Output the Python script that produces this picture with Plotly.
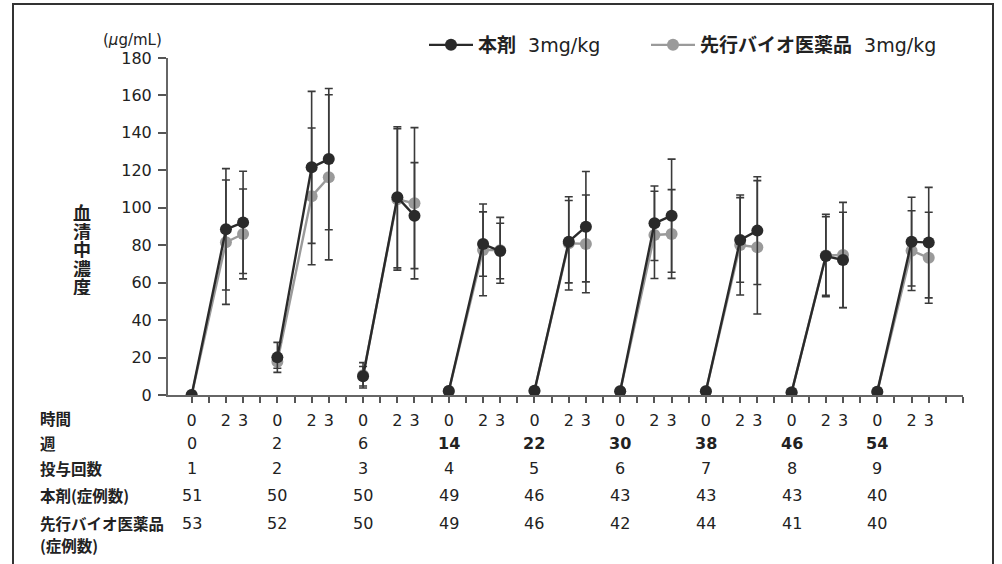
import plotly.graph_objects as go

# ---- data ----
time_offsets = [0, 2, 3]                      # 時間 within each dosing cycle
weeks = [0, 2, 6, 14, 22, 30, 38, 46, 54]      # 週
doses = [1, 2, 3, 4, 5, 6, 7, 8, 9]            # 投与回数
n_test = [51, 50, 50, 49, 46, 43, 43, 43, 40]  # 本剤(症例数)
n_ref = [53, 52, 50, 49, 46, 42, 44, 41, 40]   # 先行バイオ医薬品(症例数)

test_mean = [[0.0, 88.5, 92.2], [20.1, 121.6, 126.0], [10.0, 105.6, 95.8],
             [2.1, 80.6, 76.9], [2.3, 81.9, 89.9], [2.0, 91.7, 95.8],
             [2.0, 82.8, 87.8], [1.4, 74.2, 72.1], [1.8, 81.9, 81.4]]
test_sd = [[0.0, 32.4, 27.3], [8.0, 40.6, 37.7], [5.2, 37.7, 28.3],
           [1.0, 17.2, 14.8], [1.0, 22.0, 29.5], [1.0, 19.9, 30.2],
           [1.0, 22.6, 28.8], [1.0, 21.0, 25.5], [1.0, 23.7, 29.5]]
ref_mean = [[0.0, 81.6, 86.0], [17.8, 106.1, 116.3], [10.5, 104.5, 102.4],
            [2.0, 77.5, 77.3], [2.2, 81.0, 80.7], [2.0, 85.5, 86.0],
            [2.0, 80.1, 78.9], [1.5, 74.5, 74.8], [1.8, 77.1, 73.3]]
ref_sd = [[0.0, 33.2, 24.0], [3.5, 36.5, 44.1], [6.8, 37.8, 40.4],
          [1.0, 24.5, 17.6], [1.0, 24.9, 26.1], [1.0, 23.3, 23.7],
          [1.0, 26.7, 35.6], [1.0, 22.0, 28.1], [1.0, 21.3, 24.3]]

cycle_len = 5
row_labels = ["時間", "週", "投与回数", "本剤(症例数)", "先行バイオ医薬品", "(症例数)"]
y_title = "血清中濃度"

JP = "Noto Sans CJK JP"
NUM = "DejaVu Sans, Noto Sans CJK JP"
TXT = "#222222"
NB = "\u00a0"


def build(means, sds):
    xs, ys, es = [], [], []
    for k, (m, s) in enumerate(zip(means, sds)):
        for t, mv, sv in zip(time_offsets, m, s):
            xs.append(k * cycle_len + t)
            ys.append(mv)
            es.append(sv)
        xs.append(None); ys.append(None); es.append(None)
    return xs, ys, es


fig = go.Figure()
for name, means, sds, col, lg in [
    ("<b>先行バイオ医薬品</b>" + NB * 2 + "3mg/kg", ref_mean, ref_sd, "#9a9a9a", "legend2"),
    ("<b>本剤</b>" + NB * 2 + "3mg/kg", test_mean, test_sd, "#2a2a2a", "legend"),
]:
    xs, ys, es = build(means, sds)
    fig.add_trace(go.Scatter(
        x=xs, y=ys, name=name, mode="lines+markers", legend=lg, showlegend=True,
        line=dict(color=col, width=2.4),
        marker=dict(color=col, size=12),
        error_y=dict(type="data", array=es, visible=True,
                     color="#3a3a3a", thickness=1.6, width=4),
        connectgaps=False,
    ))

n_cycles = len(weeks)
max_u = n_cycles * cycle_len
tickvals = list(range(0, max_u + 1))
ticktext = [str(u % cycle_len) if (u % cycle_len) in time_offsets and u < max_u else "" for u in tickvals]

fig.update_xaxes(
    range=[-1.38, max_u], tickmode="array", tickvals=tickvals, ticktext=ticktext,
    ticks="outside", ticklen=6, tickcolor="#555555", tickwidth=1.5,
    showline=True, linecolor="#666666", linewidth=2, showgrid=False, zeroline=False,
    tickfont=dict(family=NUM, size=16, color=TXT), ticklabelstandoff=4,
)
fig.update_yaxes(
    range=[0, 180], tickmode="linear", tick0=0, dtick=20,
    ticks="outside", ticklen=8, tickcolor="#555555", tickwidth=1.5,
    showline=True, linecolor="#666666", linewidth=2, showgrid=False, zeroline=False,
    tickfont=dict(family=NUM, size=16, color=TXT), ticklabelstandoff=3,
)

PL, PR, PT, PB = 168, 39, 58, 169
W, H = 1002, 564
pw, ph = W - PL - PR, H - PT - PB


def px_x(p):
    return (p - PL) / pw


def px_y(p):
    return (H - PB - p) / ph


ann = []
# y-axis title (vertical stacked characters)
for i, ch in enumerate(y_title):
    ann.append(dict(text=ch, x=px_x(82), y=px_y(212 + 18.5 * i),
                    xref="paper", yref="paper", showarrow=False, height=18,
                    font=dict(family=JP, size=18, color=TXT, weight="bold"),
                    xanchor="center", yanchor="middle"))
# unit
ann.append(dict(text="(<i>μ</i>g/mL)", x=px_x(101), y=px_y(40), xref="paper", yref="paper",
                showarrow=False, xanchor="left", yanchor="middle",
                font=dict(family=NUM, size=15, color=TXT)))

row_y = [418, 443, 468, 495, 523, 545]
for lbl, ry in zip(row_labels, row_y):
    ann.append(dict(text=lbl, x=px_x(38), y=px_y(ry), xref="paper", yref="paper",
                    showarrow=False, xanchor="left", yanchor="middle", align="left",
                    font=dict(family=JP, size=15.5, color=TXT, weight="bold")))

rows = [(weeks, 443), (doses, 468), (n_test, 495), (n_ref, 523)]
for ri, (vals, ry) in enumerate(rows):
    for k, v in enumerate(vals):
        bold = (ri == 0 and v >= 14)
        ann.append(dict(text=str(v), x=k * cycle_len, y=px_y(ry), xref="x", yref="paper",
                        showarrow=False, xanchor="center", yanchor="middle",
                        font=dict(family=NUM, size=16, color=TXT,
                                  weight="bold" if bold else "normal")))

leg_common = dict(orientation="h", yanchor="middle", xanchor="left", itemwidth=44,
                  font=dict(family=NUM, size=19, color=TXT), bgcolor="rgba(0,0,0,0)")
fig.update_layout(
    width=W, height=H, autosize=False, showlegend=True,
    margin=dict(l=PL, r=PR, t=PT, b=PB),
    paper_bgcolor="white", plot_bgcolor="white",
    annotations=ann,
    legend=dict(x=px_x(424), y=px_y(45), **leg_common),
    legend2=dict(x=px_x(646), y=px_y(45), **leg_common),
    shapes=[dict(type="rect", xref="paper", yref="paper",
                 x0=px_x(13), x1=px_x(993), y0=px_y(620), y1=px_y(4),
                 line=dict(color="#333333", width=2), fillcolor="rgba(0,0,0,0)")],
)

fig.write_html("out.html")
